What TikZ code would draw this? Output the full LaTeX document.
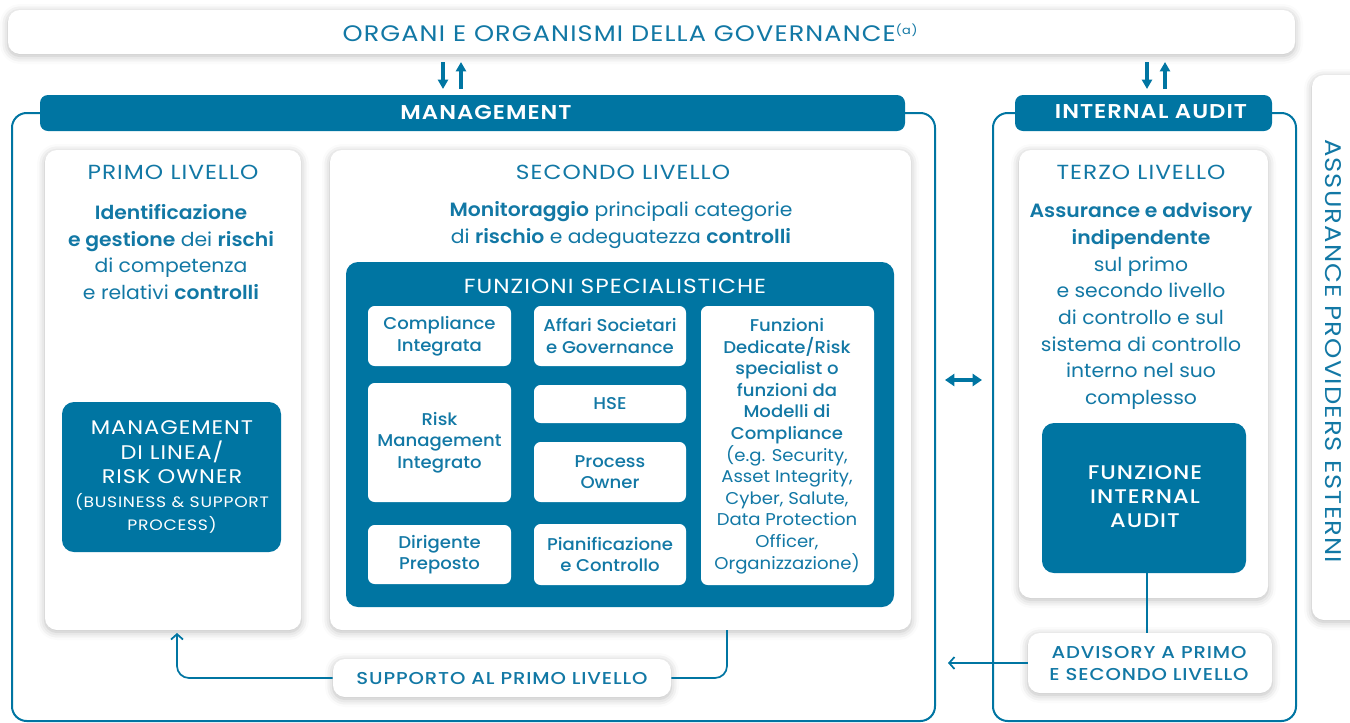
\documentclass[tikz,border=0pt]{standalone}
\usepackage{fontspec}
\IfFontExistsTF{Poppins SemiBold}
  {\setmainfont{Poppins}[FakeStretch=1.06,BoldFont={Poppins SemiBold}]
   \newfontfamily\capsfont{Poppins}[FakeStretch=1.14,LetterSpace=5,BoldFont={Poppins SemiBold}]}
  {\setmainfont{Poppins}[FakeStretch=1.06]
   \newfontfamily\capsfont{Poppins}[FakeStretch=1.14,LetterSpace=5]}
\IfFontExistsTF{Poppins Medium}
  {\newfontfamily\medfont{Poppins Medium}[FakeStretch=1.06]
   \newfontfamily\medcaps{Poppins Medium}[FakeStretch=1.14,LetterSpace=5]}
  {\newfontfamily\medfont{Poppins}[FakeStretch=1.06]
   \newfontfamily\medcaps{Poppins}[FakeStretch=1.14,LetterSpace=5]}
\usetikzlibrary{fit,shadows.blur,arrows.meta}
\definecolor{ebl}{RGB}{0,117,162}
\definecolor{etx}{RGB}{18,120,165}
\begin{document}
\begin{tikzpicture}[x=0.75pt,y=-0.75pt,
  shad/.style={blur shadow={shadow xshift=0pt,shadow yshift=-1.5pt,shadow blur radius=6pt,shadow opacity=28}},
  wpanel/.style={fill=white,rounded corners=9pt,inner sep=0pt,shad},
  bpanel/.style={fill=ebl,rounded corners=9pt,inner sep=0pt,text=white,align=center},
  hdr/.style={fill=ebl,rounded corners=6pt,inner sep=0pt},
  ibox/.style={fill=white,rounded corners=5pt,inner sep=0pt},
  frm/.style={draw=ebl,line width=1.5pt,rounded corners=11pt,inner sep=0pt},
  conn/.style={draw=ebl,line width=1.3pt},
  garrow/.style={draw=ebl,line width=2.4pt,-{Triangle[width=7.5pt,length=7pt]}},
  lvl/.style={text=etx,font=\capsfont\fontsize{15.3}{18}\selectfont},
  body/.style={text=etx,align=center,font=\fontsize{14.4}{20}\selectfont},
  hdrtxt/.style={text=white,font=\capsfont\fontsize{15}{18}\selectfont\bfseries},
  wtxt/.style={text=white,align=center,font=\capsfont\fontsize{14.8}{18.4}\selectfont},
  ltxt/.style={text=etx,align=center,font=\medfont\fontsize{12.8}{16.2}\selectfont},
  ctxt/.style={text=etx,align=center,font=\medcaps\fontsize{12.9}{16.5}\selectfont}
]
\useasboundingbox (0,0) rectangle (1350,722);
% frames
\node[frm,fit={(12,113) (935,721)}] (mframe) {};
\node[frm,fit={(993,113) (1296,721)}] (iaframe) {};
% governance bar
\node[wpanel,fit={(8,10) (1295,54)}] (gov) {};
\node[text=etx,font=\capsfont\fontsize{16.8}{20}\selectfont] (govtxt) at (630,33) {ORGANI E ORGANISMI DELLA GOVERNANCE{\fontsize{8.5}{9}\selectfont\raisebox{5.5pt}{(a)}}};
% assurance panel
\node[wpanel,fit={(1312,75) (1380,620)}] (ass) {};
\node[rotate=-90,text=etx,font=\capsfont\fontsize{17}{20}\selectfont] (asstxt) at (1333,351) {ASSURANCE PROVIDERS ESTERNI};
% headers
\node[hdr,fit={(40,95) (905,131)}] (mhdr) {};
\node[hdrtxt] (mhdrtxt) at (486,112) {MANAGEMENT};
\node[hdr,fit={(1015,95) (1272,131)}] (iahdr) {};
\node[hdrtxt] (iahdrtxt) at (1151,112) {INTERNAL AUDIT};
% top arrows
\coordinate (a1s) at (443,62); \coordinate (a1e) at (443,89);
\coordinate (a2s) at (461,89); \coordinate (a2e) at (461,62);
\coordinate (a3s) at (1147,62); \coordinate (a3e) at (1147,89);
\coordinate (a4s) at (1165,89); \coordinate (a4e) at (1165,62);
\draw[garrow] (a1s) -- (a1e);
\draw[garrow] (a2s) -- (a2e);
\draw[garrow] (a3s) -- (a3e);
\draw[garrow] (a4s) -- (a4e);
% panels
\node[wpanel,fit={(45,150) (301,630)}] (primo) {};
\node[wpanel,fit={(330,150) (911,630)}] (secondo) {};
\node[wpanel,fit={(1019,150) (1268,598)}] (terzo) {};
\node[lvl] (primot) at (173,172) {PRIMO LIVELLO};
\node[lvl] (secondot) at (623,172) {SECONDO LIVELLO};
\node[lvl] (terzot) at (1141,172) {TERZO LIVELLO};
\node[body] (primob) at (171,252) {{\bfseries Identificazione}\\{\bfseries e gestione} dei {\bfseries rischi}\\di competenza\\e relativi {\bfseries controlli}};
\node[body] (secondob) at (621,225) {{\bfseries Monitoraggio} principali categorie\\di {\bfseries rischio} e adeguatezza {\bfseries controlli}};
\node[body] (terzob) at (1141,306) {{\bfseries Assurance e advisory}\\{\bfseries indipendente}\\sul primo\\e secondo livello\\di controllo e sul\\sistema di controllo\\interno nel suo\\complesso};
% management di linea
\node[bpanel,fit={(62,402) (281,552)}] (mdl) {};
\node[wtxt] (mdltxt) at (172,477) {MANAGEMENT\\DI LINEA/\\RISK OWNER\\[-1pt]{\fontsize{11.3}{17.5}\selectfont (BUSINESS \& SUPPORT}\\[-1pt]{\fontsize{11.3}{17.5}\selectfont PROCESS)}};
% funzioni specialistiche
\node[bpanel,fit={(346,262) (894,607)}] (fs) {};
\node[text=white,font=\capsfont\fontsize{15.3}{18}\selectfont] (fst) at (615,286) {FUNZIONI SPECIALISTICHE};
\node[ibox,fit={(368,306) (511,366)}] (ci) {};
\node[ltxt] at (ci.center) {Compliance\\Integrata};
\node[ibox,fit={(534,306) (686,366)}] (as) {};
\node[ltxt] at (as.center) {Affari Societari\\e Governance};
\node[ibox,fit={(368,383) (511,502)}] (rm) {};
\node[ltxt] at (rm.center) {Risk\\Management\\Integrato};
\node[ibox,fit={(534,385) (686,423)}] (hse) {};
\node[ltxt] at (hse.center) {HSE};
\node[ibox,fit={(534,442) (686,502)}] (po) {};
\node[ltxt] at (po.center) {Process\\Owner};
\node[ibox,fit={(368,525) (511,584)}] (dp) {};
\node[ltxt] at (dp.center) {Dirigente\\Preposto};
\node[ibox,fit={(534,524) (686,585)}] (pc) {};
\node[ltxt] at (pc.center) {Pianificazione\\e Controllo};
\node[ibox,fit={(701,306) (874,585)}] (fd) {};
\node[ltxt] at (787,446) {Funzioni\\Dedicate/Risk\\specialist o\\funzioni da\\Modelli di\\Compliance\\{\normalfont\fontsize{12.8}{16.2}\selectfont (e.g. Security,}\\{\normalfont\fontsize{12.8}{16.2}\selectfont Asset Integrity,}\\{\normalfont\fontsize{12.8}{16.2}\selectfont Cyber, Salute,}\\{\normalfont\fontsize{12.8}{16.2}\selectfont Data Protection}\\{\normalfont\fontsize{12.8}{16.2}\selectfont Officer,}\\{\normalfont\fontsize{12.8}{16.2}\selectfont Organizzazione)}};
% internal audit function
\node[bpanel,fit={(1042,423) (1246,573)}] (fia) {};
\node[wtxt,font=\medcaps\fontsize{14.8}{18}\selectfont] (fiatxt) at (1145,497) {FUNZIONE\\INTERNAL\\AUDIT};
% double arrow
\coordinate (d1) at (945,380); \coordinate (d2) at (982,380);
\draw[draw=ebl,line width=3pt,{Triangle[width=9pt,length=7pt]}-{Triangle[width=9pt,length=7pt]}] (d1) -- (d2);
% advisory
\node[wpanel,fit={(1028,633) (1272,693)}] (adv) {};
\node[ctxt] (advtxt) at (1149,663) {ADVISORY A PRIMO\\E SECONDO LIVELLO};
\draw[conn] (fia.south -| 1147,0) -- (adv.north -| 1147,0);
\coordinate (advend) at (948,663);
\draw[conn,-{Straight Barb[length=4pt,width=9pt]}] (adv.west) -- (advend);
% supporto
\node[wpanel,fit={(333,659) (671,697)}] (supp) {};
\node[ctxt] (supptxt) at (502,678) {SUPPORTO AL PRIMO LIVELLO};
\coordinate (s1) at (727,630);
\coordinate (p1) at (177,633);
\draw[conn,rounded corners=9pt] (s1) |- (supp.east);
\draw[conn,rounded corners=9pt,-{Straight Barb[length=4pt,width=9pt]}] (supp.west) -| (p1);
\end{tikzpicture}
\end{document}
